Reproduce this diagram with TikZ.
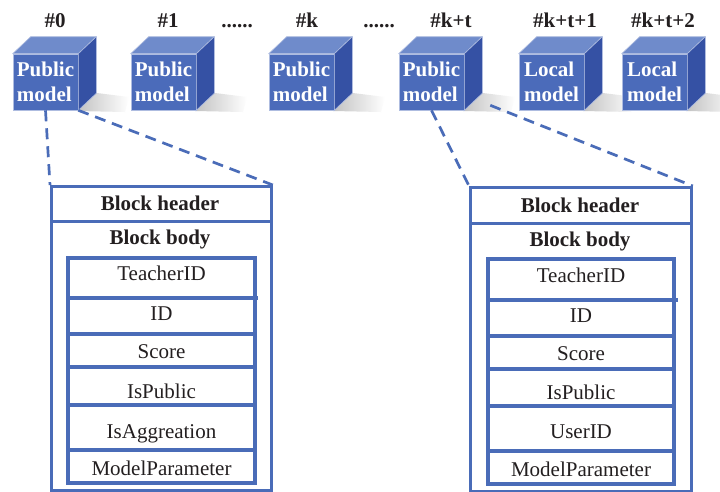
\documentclass[tikz,border=0pt]{standalone}
\usepackage{fontspec}
\setmainfont{Liberation Serif}
\definecolor{linkblue}{HTML}{4A6CB8}
\definecolor{cubefront}{HTML}{4B6BBA}
\definecolor{cubetop}{HTML}{6F8BCB}
\definecolor{cubeside}{HTML}{3551A4}
\definecolor{ink}{HTML}{231F20}
\tikzset{
  cubeface/.style={rectangle, fill=cubefront, draw=white!55!cubefront, line width=0.6pt,
    minimum width=65pt, minimum height=56pt, inner sep=0pt, text=white,
    font=\bfseries\fontsize{21}{25}\selectfont, align=left},
  facefill/.style={draw=white!55!cubefront, line width=0.6pt, line join=round},
  idlabel/.style={text=ink, font=\bfseries\fontsize{21}{25}\selectfont, inner sep=0pt},
  blockframe/.style={draw=linkblue, line width=2.8pt},
  fieldframe/.style={draw=linkblue, line width=3.1pt},
  fieldtext/.style={text=ink, font=\fontsize{21}{25}\selectfont, inner sep=0pt, anchor=base},
  headtext/.style={text=ink, font=\bfseries\fontsize{21}{25}\selectfont, inner sep=0pt, anchor=base},
  zoomlink/.style={draw=linkblue, line width=2.7pt, dash pattern=on 11pt off 7pt},
}
\begin{document}
\begin{tikzpicture}[x=1pt,y=-1pt]
\useasboundingbox[fill=white] (0,0) rectangle (720,491);

% chain of model cubes
\foreach \n/\x/\lab/\lx/\kind in {0/13/\#0/55/Public, 1/131/\#1/168/Public,
    k/269/\#k/307/Public, kt/399/\#k+t/451/Public,
    kta/519/\#k+t+1/565/Local, ktb/622/\#k+t+2/663/Local}{
  % soft shadow cast to the right
  \shade[left color=black!24, right color=white]
    (\x+64,111) -- (\x+84,93) -- (\x+116,97) -- (\x+112,112) -- cycle;
  \node[cubeface] (cube\n) at (\x+32.5,82) {\kind\\model};
  \filldraw[facefill, fill=cubetop] (cube\n.north west) -- ++(18,-17)
    -- ([shift={(18,-17)}]cube\n.north east) -- (cube\n.north east) -- cycle;
  \filldraw[facefill, fill=cubeside] (cube\n.north east) -- ++(18,-17)
    -- ([shift={(18,-17)}]cube\n.south east) -- (cube\n.south east) -- cycle;
  \node[idlabel, anchor=base] (id\n) at (\lx,27) {\lab};
}
\node[idlabel, anchor=base] (gapA) at (237,27) {......};
\node[idlabel, anchor=base] (gapB) at (379,27) {......};

% block of model #0
\node[blockframe, anchor=north west, minimum width=220pt, minimum height=304pt, inner sep=0pt] (blkA) at (50,185) {};
\node[blockframe, anchor=north west, minimum width=220pt, minimum height=35pt, inner sep=0pt] (hdrA) at (50,185) {};
\node[headtext] (hdrAtxt) at (160,210) {Block header};
\node[headtext] (bodyAtxt) at (160,244) {Block body};
\foreach \i/\t/\b/\bl/\txt in {1/258/298/280/TeacherID, 2/298/334/320/ID, 3/334/367/358/Score,
    4/367/405/398/IsPublic, 5/405/450/438/IsAggreation, 6/450/483/475/ModelParameter}{
  \draw[fieldframe] (68,\t) rectangle (255,\b);
  \node[fieldtext] (fA\i) at (161.5,\bl) {\txt};
}
\draw[fieldframe] (67,298) -- (258,298);

% block of model #k+t
\node[blockframe, anchor=north west, minimum width=221pt, minimum height=304pt, inner sep=0pt] (blkB) at (469,186) {};
\node[blockframe, anchor=north west, minimum width=221pt, minimum height=36pt, inner sep=0pt] (hdrB) at (469,186) {};
\node[headtext] (hdrBtxt) at (580,212) {Block header};
\node[headtext] (bodyBtxt) at (580,246) {Block body};
\foreach \i/\t/\b/\bl/\txt in {1/259/300/282/TeacherID, 2/300/336/322/ID, 3/336/369/360/Score,
    4/369/406/399/IsPublic, 5/406/451/438/UserID, 6/451/484/476/ModelParameter}{
  \draw[fieldframe] (488,\t) rectangle (674,\b);
  \node[fieldtext] (fB\i) at (581,\bl) {\txt};
}
\draw[fieldframe] (488,300) -- (678,300);

% zoom-in links from the cubes to their blocks
\draw[zoomlink] (cube0.south) -- (blkA.north west);
\draw[zoomlink] (cube0.south east) -- (blkA.north east);
\draw[zoomlink] (cubekt.south) -- (blkB.north west);
\draw[zoomlink] ([shift={(26,-5)}]cubekt.south east) -- (blkB.north east);
\end{tikzpicture}
\end{document}
